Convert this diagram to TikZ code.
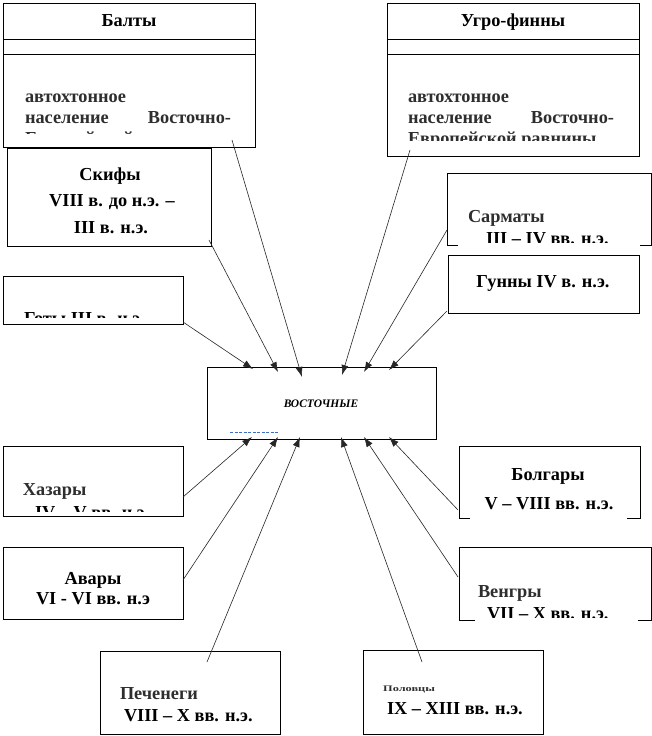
\documentclass[tikz,border=0pt]{standalone}
\usepackage{fontspec}
\setmainfont{Liberation Serif}
\usetikzlibrary{arrows.meta}
\definecolor{ink}{HTML}{2E2E2E}
\definecolor{dashblue}{HTML}{3A6FC4}
\tikzset{
  box/.style={draw=black, line width=0.9pt, fill=white, rectangle, inner sep=0pt, outer sep=0pt},
  txt/.style={inner sep=0pt, outer sep=0pt, font=\fontsize{18.3}{21}\selectfont\bfseries},
  shade/.style={txt, text=ink},
  link/.style={draw=black!85, line width=0.6pt, -{Latex[length=10pt,width=7pt]}},
}
\newcommand{\bx}[5]{\node[box, minimum width={(#4-#2)*1pt}, minimum height={(#5-#3)*1pt}] (#1) at ({(#2+#4)/2},{(#3+#5)/2}) {};}
\begin{document}
\begin{tikzpicture}[x=1pt,y=-1pt]
\useasboundingbox (0,0) rectangle (652,736);
\fill[white] (0,0) rectangle (652,736);

% ---------- boxes ----------
\bx{baltyH}{3}{3}{255}{39}
\bx{baltyS}{3}{39}{255}{54}
\bx{baltyB}{3}{54}{255}{147}
\bx{ugroH}{387}{3}{639}{39}
\bx{ugroS}{387}{39}{639}{54}
\bx{ugroB}{387}{54}{639}{156}
\bx{skify}{7}{148}{211}{246}
\bx{sarm}{447}{173}{651}{245}
\bx{gunny}{448}{255}{639}{313}
\bx{goty}{3}{276}{183}{324}
\bx{center}{207}{367}{436}{439}
\bx{hazary}{3}{446}{183}{516}
\bx{avary}{3}{547}{183}{619}
\bx{pech}{100}{651}{280}{734}
\bx{bolg}{459}{446}{640}{518}
\bx{vengr}{459}{547}{651}{620}
\bx{polov}{363}{650}{543}{734}

% white frames hiding parts of bottom edges
\fill[white] (458,243) rectangle (640,247);
\fill[white] (470,516) rectangle (627,520);
\fill[white] (475,618) rectangle (638,622);

% ---------- texts ----------
\node[txt, anchor=base] (tBalty) at (129,27) {Балты};
\node[txt, anchor=base] (tUgro) at (513,27) {Угро-финны};
\begin{scope}
  \clip (3,54) rectangle (255,133);
  \node[shade, anchor=base west] (tB1) at (25,102) {автохтонное};
  \node[shade, anchor=base west] (tB2) at (25,123) {\hbox to 206pt{население\hfill Восточно-}};
  \node[shade, anchor=base west] (tB3) at (25,144) {\hbox to 206pt{Европейской\hfill равнины}};
\end{scope}
\begin{scope}
  \clip (387,54) rectangle (639,140);
  \node[shade, anchor=base west] (tU1) at (408,102) {автохтонное};
  \node[shade, anchor=base west] (tU2) at (408,123) {\hbox to 206pt{население\hfill Восточно-}};
  \node[shade, anchor=base west] (tU3) at (408,144) {Европейской равнины};
\end{scope}

\node[txt, anchor=base] (tSk1) at (110,180) {Скифы};
\node[txt, anchor=base] (tSk2) at (112,206) {VIII в. до н.э. –};
\node[txt, anchor=base] (tSk3) at (111,233) {III в. н.э.};

\node[shade, anchor=base west] (tSa1) at (468,222) {Сарматы};
\begin{scope}
  \clip (447,173) rectangle (651,242.5);
  \node[txt, anchor=base west] (tSa2) at (486,244) {III – IV вв. н.э.};
\end{scope}

\node[txt, anchor=base] (tGu) at (543,287) {Гунны IV в. н.э.};

\begin{scope}
  \clip (3,276) rectangle (183,317.5);
  \node[txt, anchor=base west] (tGo) at (24,324) {Готы III в. н.э.};
\end{scope}

\node[inner sep=0pt, font=\fontsize{11.5}{13}\selectfont\bfseries\itshape] (tC) at (321,404) {ВОСТОЧНЫЕ};
\draw[dashblue, line width=0.8pt, dash pattern=on 3pt off 1.5pt] (230,432) -- (278,432);

\node[shade, anchor=base west] (tHa1) at (23,495) {Хазары};
\begin{scope}
  \clip (3,446) rectangle (183,511.5);
  \node[txt, anchor=base west] (tHa2) at (35,518) {IV – V вв. н.э.};
\end{scope}

\node[txt, anchor=base] (tAv1) at (93,584) {Авары};
\node[txt, anchor=base] (tAv2) at (93,604) {VI - VI вв. н.э};

\node[shade, anchor=base west] (tPe1) at (120,699) {Печенеги};
\node[txt, anchor=base west] (tPe2) at (124,721) {VIII – X вв. н.э.};

\node[txt, anchor=base] (tBo1) at (548,480) {Болгары};
\node[txt, anchor=base] (tBo2) at (549,509) {V – VIII вв. н.э.};

\node[shade, anchor=base west] (tVe1) at (478,597) {Венгры};
\begin{scope}
  \clip (459,547) rectangle (651,617);
  \node[txt, anchor=base west] (tVe2) at (487,619) {VII – X вв. н.э.};
\end{scope}

\node[inner sep=0pt, anchor=base west, font=\fontsize{8.5}{10}\selectfont\bfseries, text=ink] (tPo1) at (383,691) {\scalebox{1.45}[1]{Половцы}};
\node[txt, anchor=base west] (tPo2) at (387,714) {IX – XIII вв. н.э.};

% ---------- connector ends ----------
\coordinate (sGoty) at (183,322);
\coordinate (sSkify) at (209,240);
\coordinate (sBalty) at (232,140);
\coordinate (sUgro) at (410,150);
\coordinate (sSarm) at (447,230);
\coordinate (sGunny) at (447,311);
\coordinate (sHazary) at (183,497);
\coordinate (sAvary) at (183,580);
\coordinate (sPech) at (207,662);
\coordinate (sPolov) at (422,662);
\coordinate (sVengr) at (458,577);
\coordinate (sBolg) at (458,510);

\coordinate (e1) at (253,369);
\coordinate (e2) at (278,372);
\coordinate (e3) at (302,377);
\coordinate (e4) at (342,375);
\coordinate (e5) at (364,372);
\coordinate (e6) at (389,370);
\coordinate (f1) at (252,437);
\coordinate (f2) at (278,437);
\coordinate (f3) at (300,437);
\coordinate (f4) at (341,437);
\coordinate (f5) at (364,437);
\coordinate (f6) at (389,437);

\draw[link] (sGoty) -- (e1);
\draw[link] (sSkify) -- (e2);
\draw[link] (sBalty) -- (e3);
\draw[link] (sUgro) -- (e4);
\draw[link] (sSarm) -- (e5);
\draw[link] (sGunny) -- (e6);
\draw[link] (sHazary) -- (f1);
\draw[link] (sAvary) -- (f2);
\draw[link] (sPech) -- (f3);
\draw[link] (sPolov) -- (f4);
\draw[link] (sVengr) -- (f5);
\draw[link] (sBolg) -- (f6);
\end{tikzpicture}
\end{document}
